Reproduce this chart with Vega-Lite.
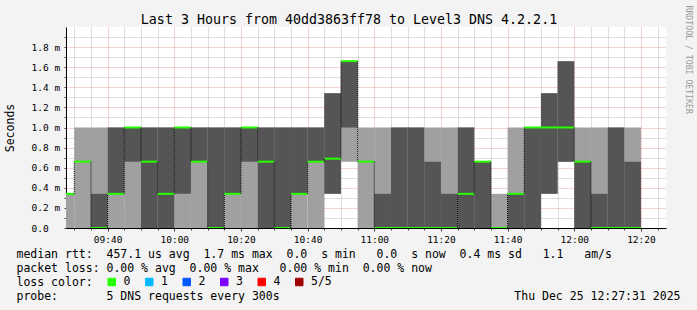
{
  "$schema": "https://vega.github.io/schema/vega-lite/v6.json",
  "width": 600,
  "height": 201,
  "autosize": {"type": "none"},
  "padding": {"left": 66, "top": 27, "right": 31, "bottom": 82},
  "background": "#f3f3f3",
  "config": {
    "view": {"fill": "#ffffff", "stroke": null},
    "font": "DejaVu Sans Mono",
    "axis": {"zindex": 1}
  },
  "data": {
    "values": [
      {"t": "2025-12-25T09:25:00Z", "t2": "2025-12-25T09:30:00Z", "lo1": 0, "hi1": 0.34, "lo2": 0.34, "hi2": 0.34, "med": 0.34, "loss": "0"},
      {"t": "2025-12-25T09:30:00Z", "t2": "2025-12-25T09:35:00Z", "lo1": 0, "hi1": 1.0, "lo2": 0.66, "hi2": 0.66, "med": 0.66, "loss": "0"},
      {"t": "2025-12-25T09:35:00Z", "t2": "2025-12-25T09:40:00Z", "lo1": 0, "hi1": 1.0, "lo2": 0, "hi2": 0.34, "med": 0, "loss": "0"},
      {"t": "2025-12-25T09:40:00Z", "t2": "2025-12-25T09:45:00Z", "lo1": 0, "hi1": 1.0, "lo2": 0.34, "hi2": 1.0, "med": 0.34, "loss": "0"},
      {"t": "2025-12-25T09:45:00Z", "t2": "2025-12-25T09:50:00Z", "lo1": 0, "hi1": 1.0, "lo2": 0.66, "hi2": 1.0, "med": 1.0, "loss": "0"},
      {"t": "2025-12-25T09:50:00Z", "t2": "2025-12-25T09:55:00Z", "lo1": 0, "hi1": 1.0, "lo2": 0, "hi2": 1.0, "med": 0.66, "loss": "0"},
      {"t": "2025-12-25T09:55:00Z", "t2": "2025-12-25T10:00:00Z", "lo1": 0, "hi1": 1.0, "lo2": 0, "hi2": 1.0, "med": 0.34, "loss": "0"},
      {"t": "2025-12-25T10:00:00Z", "t2": "2025-12-25T10:05:00Z", "lo1": 0, "hi1": 1.0, "lo2": 0.34, "hi2": 1.0, "med": 1.0, "loss": "0"},
      {"t": "2025-12-25T10:05:00Z", "t2": "2025-12-25T10:10:00Z", "lo1": 0, "hi1": 1.0, "lo2": 0.66, "hi2": 1.0, "med": 0.66, "loss": "0"},
      {"t": "2025-12-25T10:10:00Z", "t2": "2025-12-25T10:15:00Z", "lo1": 0, "hi1": 1.0, "lo2": 0, "hi2": 1.0, "med": 0, "loss": "0"},
      {"t": "2025-12-25T10:15:00Z", "t2": "2025-12-25T10:20:00Z", "lo1": 0, "hi1": 1.0, "lo2": 0.34, "hi2": 1.0, "med": 0.34, "loss": "0"},
      {"t": "2025-12-25T10:20:00Z", "t2": "2025-12-25T10:25:00Z", "lo1": 0, "hi1": 1.0, "lo2": 0.66, "hi2": 1.0, "med": 1.0, "loss": "0"},
      {"t": "2025-12-25T10:25:00Z", "t2": "2025-12-25T10:30:00Z", "lo1": 0, "hi1": 1.0, "lo2": 0, "hi2": 1.0, "med": 0.66, "loss": "0"},
      {"t": "2025-12-25T10:30:00Z", "t2": "2025-12-25T10:35:00Z", "lo1": 0, "hi1": 1.0, "lo2": 0, "hi2": 1.0, "med": 0, "loss": "0"},
      {"t": "2025-12-25T10:35:00Z", "t2": "2025-12-25T10:40:00Z", "lo1": 0, "hi1": 1.0, "lo2": 0.34, "hi2": 1.0, "med": 0.34, "loss": "0"},
      {"t": "2025-12-25T10:40:00Z", "t2": "2025-12-25T10:45:00Z", "lo1": 0, "hi1": 1.0, "lo2": 0.66, "hi2": 1.0, "med": 0.66, "loss": "0"},
      {"t": "2025-12-25T10:45:00Z", "t2": "2025-12-25T10:50:00Z", "lo1": 0.34, "hi1": 1.34, "lo2": 0.34, "hi2": 1.34, "med": 0.69, "loss": "0"},
      {"t": "2025-12-25T10:50:00Z", "t2": "2025-12-25T10:55:00Z", "lo1": 0.66, "hi1": 1.66, "lo2": 1.0, "hi2": 1.66, "med": 1.66, "loss": "0"},
      {"t": "2025-12-25T10:55:00Z", "t2": "2025-12-25T11:00:00Z", "lo1": 0, "hi1": 1.0, "lo2": 0.66, "hi2": 0.66, "med": 0.66, "loss": "0"},
      {"t": "2025-12-25T11:00:00Z", "t2": "2025-12-25T11:05:00Z", "lo1": 0, "hi1": 1.0, "lo2": 0, "hi2": 0.34, "med": 0, "loss": "0"},
      {"t": "2025-12-25T11:05:00Z", "t2": "2025-12-25T11:10:00Z", "lo1": 0, "hi1": 1.0, "lo2": 0, "hi2": 1.0, "med": 0, "loss": "0"},
      {"t": "2025-12-25T11:10:00Z", "t2": "2025-12-25T11:15:00Z", "lo1": 0, "hi1": 1.0, "lo2": 0, "hi2": 1.0, "med": 0, "loss": "0"},
      {"t": "2025-12-25T11:15:00Z", "t2": "2025-12-25T11:20:00Z", "lo1": 0, "hi1": 1.0, "lo2": 0, "hi2": 0.66, "med": 0, "loss": "0"},
      {"t": "2025-12-25T11:20:00Z", "t2": "2025-12-25T11:25:00Z", "lo1": 0, "hi1": 1.0, "lo2": 0, "hi2": 0.34, "med": 0, "loss": "0"},
      {"t": "2025-12-25T11:25:00Z", "t2": "2025-12-25T11:30:00Z", "lo1": 0, "hi1": 1.0, "lo2": 0, "hi2": 1.0, "med": 0.34, "loss": "0"},
      {"t": "2025-12-25T11:30:00Z", "t2": "2025-12-25T11:35:00Z", "lo1": 0, "hi1": 0.66, "lo2": 0, "hi2": 0.66, "med": 0.66, "loss": "0"},
      {"t": "2025-12-25T11:35:00Z", "t2": "2025-12-25T11:40:00Z", "lo1": 0, "hi1": 0.34, "lo2": 0, "hi2": 0, "med": 0, "loss": "0"},
      {"t": "2025-12-25T11:40:00Z", "t2": "2025-12-25T11:45:00Z", "lo1": 0, "hi1": 1.0, "lo2": 0, "hi2": 0.34, "med": 0.34, "loss": "0"},
      {"t": "2025-12-25T11:45:00Z", "t2": "2025-12-25T11:50:00Z", "lo1": 0, "hi1": 1.0, "lo2": 0, "hi2": 1.0, "med": 1.0, "loss": "0"},
      {"t": "2025-12-25T11:50:00Z", "t2": "2025-12-25T11:55:00Z", "lo1": 0.34, "hi1": 1.34, "lo2": 0.34, "hi2": 1.34, "med": 1.0, "loss": "0"},
      {"t": "2025-12-25T11:55:00Z", "t2": "2025-12-25T12:00:00Z", "lo1": 0.66, "hi1": 1.66, "lo2": 0.66, "hi2": 1.66, "med": 1.0, "loss": "0"},
      {"t": "2025-12-25T12:00:00Z", "t2": "2025-12-25T12:05:00Z", "lo1": 0, "hi1": 1.0, "lo2": 0, "hi2": 0.66, "med": 0.66, "loss": "0"},
      {"t": "2025-12-25T12:05:00Z", "t2": "2025-12-25T12:10:00Z", "lo1": 0, "hi1": 1.0, "lo2": 0, "hi2": 0.34, "med": 0, "loss": "0"},
      {"t": "2025-12-25T12:10:00Z", "t2": "2025-12-25T12:15:00Z", "lo1": 0, "hi1": 1.0, "lo2": 0, "hi2": 1.0, "med": 0, "loss": "0"},
      {"t": "2025-12-25T12:15:00Z", "t2": "2025-12-25T12:20:00Z", "lo1": 0, "hi1": 1.0, "lo2": 0, "hi2": 0.66, "med": 0, "loss": "0"}
    ]
  },
  "resolve": {"axis": {"x": "independent", "y": "independent"}},
  "layer": [
    {
      "mark": {"type": "rect", "color": "#a0a0a0", "clip": true},
      "encoding": {
        "x": {
          "field": "t", "type": "temporal",
          "scale": {"type": "utc", "domain": ["2025-12-25T09:27:31Z", "2025-12-25T12:27:31Z"]},
          "axis": {
            "orient": "bottom",
            "tickCount": 60,
            "values": [
              {"year": 2025, "month": 12, "date": 25, "hours": 9, "minutes": 30, "utc": true},
              {"year": 2025, "month": 12, "date": 25, "hours": 9, "minutes": 35, "utc": true},
              {"year": 2025, "month": 12, "date": 25, "hours": 9, "minutes": 45, "utc": true},
              {"year": 2025, "month": 12, "date": 25, "hours": 9, "minutes": 50, "utc": true},
              {"year": 2025, "month": 12, "date": 25, "hours": 9, "minutes": 55, "utc": true},
              {"year": 2025, "month": 12, "date": 25, "hours": 10, "minutes": 5, "utc": true},
              {"year": 2025, "month": 12, "date": 25, "hours": 10, "minutes": 10, "utc": true},
              {"year": 2025, "month": 12, "date": 25, "hours": 10, "minutes": 15, "utc": true},
              {"year": 2025, "month": 12, "date": 25, "hours": 10, "minutes": 25, "utc": true},
              {"year": 2025, "month": 12, "date": 25, "hours": 10, "minutes": 30, "utc": true},
              {"year": 2025, "month": 12, "date": 25, "hours": 10, "minutes": 35, "utc": true},
              {"year": 2025, "month": 12, "date": 25, "hours": 10, "minutes": 45, "utc": true},
              {"year": 2025, "month": 12, "date": 25, "hours": 10, "minutes": 50, "utc": true},
              {"year": 2025, "month": 12, "date": 25, "hours": 10, "minutes": 55, "utc": true},
              {"year": 2025, "month": 12, "date": 25, "hours": 11, "minutes": 5, "utc": true},
              {"year": 2025, "month": 12, "date": 25, "hours": 11, "minutes": 10, "utc": true},
              {"year": 2025, "month": 12, "date": 25, "hours": 11, "minutes": 15, "utc": true},
              {"year": 2025, "month": 12, "date": 25, "hours": 11, "minutes": 25, "utc": true},
              {"year": 2025, "month": 12, "date": 25, "hours": 11, "minutes": 30, "utc": true},
              {"year": 2025, "month": 12, "date": 25, "hours": 11, "minutes": 35, "utc": true},
              {"year": 2025, "month": 12, "date": 25, "hours": 11, "minutes": 45, "utc": true},
              {"year": 2025, "month": 12, "date": 25, "hours": 11, "minutes": 50, "utc": true},
              {"year": 2025, "month": 12, "date": 25, "hours": 11, "minutes": 55, "utc": true},
              {"year": 2025, "month": 12, "date": 25, "hours": 12, "minutes": 5, "utc": true},
              {"year": 2025, "month": 12, "date": 25, "hours": 12, "minutes": 10, "utc": true},
              {"year": 2025, "month": 12, "date": 25, "hours": 12, "minutes": 15, "utc": true},
              {"year": 2025, "month": 12, "date": 25, "hours": 12, "minutes": 25, "utc": true}
            ],
            "labels": false, "domain": false, "tickSize": 2, "tickColor": "#404040",
            "grid": true, "gridColor": "#808080", "gridOpacity": 0.5, "gridDash": [1, 1],
            "title": null
          }
        },
        "x2": {"field": "t2"},
        "y": {
          "field": "lo1", "type": "quantitative",
          "scale": {"domain": [0, 2], "nice": false, "zero": false},
          "axis": {
            "orient": "left",
            "tickCount": 40,
            "values": [0.1, 0.3, 0.5, 0.7, 0.9, 1.1, 1.3, 1.5, 1.7, 1.9],
            "labels": false, "domain": false, "tickSize": 2, "tickColor": "#404040",
            "grid": true, "gridColor": "#808080", "gridOpacity": 0.5, "gridDash": [1, 1],
            "title": null
          }
        },
        "y2": {"field": "hi1"}
      }
    },
    {
      "mark": {"type": "rect", "color": "#555555", "clip": true},
      "encoding": {
        "x": {
          "field": "t", "type": "temporal",
          "axis": {
            "orient": "bottom",
            "tickCount": 40,
            "values": [
              {"year": 2025, "month": 12, "date": 25, "hours": 9, "minutes": 40, "utc": true},
              {"year": 2025, "month": 12, "date": 25, "hours": 10, "minutes": 0, "utc": true},
              {"year": 2025, "month": 12, "date": 25, "hours": 10, "minutes": 20, "utc": true},
              {"year": 2025, "month": 12, "date": 25, "hours": 10, "minutes": 40, "utc": true},
              {"year": 2025, "month": 12, "date": 25, "hours": 11, "minutes": 0, "utc": true},
              {"year": 2025, "month": 12, "date": 25, "hours": 11, "minutes": 20, "utc": true},
              {"year": 2025, "month": 12, "date": 25, "hours": 11, "minutes": 40, "utc": true},
              {"year": 2025, "month": 12, "date": 25, "hours": 12, "minutes": 0, "utc": true},
              {"year": 2025, "month": 12, "date": 25, "hours": 12, "minutes": 20, "utc": true}
            ],
            "format": "%H:%M",
            "labelFont": "DejaVu Sans Mono", "labelFontSize": 9.5, "labelColor": "#000000", "labelPadding": 3,
            "labelFlush": false, "labelOverlap": false,
            "tickSize": 3, "tickColor": "#404040",
            "domainColor": "#000000",
            "grid": true, "gridColor": "#e03030", "gridOpacity": 0.45, "gridDash": [1, 1],
            "title": [
              "median\u00a0rtt:\u00a0\u00a0457.1\u00a0us\u00a0avg\u00a0\u00a01.7\u00a0ms\u00a0max\u00a0\u00a00.0\u00a0\u00a0s\u00a0min\u00a0\u00a0\u00a00.0\u00a0\u00a0s\u00a0now\u00a0\u00a00.4\u00a0ms\u00a0sd\u00a0\u00a0\u00a01.1\u00a0\u00a0\u00a0am/s",
              "packet\u00a0loss:\u00a00.00\u00a0%\u00a0avg\u00a0\u00a00.00\u00a0%\u00a0max\u00a0\u00a0\u00a00.00\u00a0%\u00a0min\u00a0\u00a00.00\u00a0%\u00a0now",
              "loss\u00a0color:",
              "probe:\u00a0\u00a0\u00a0\u00a0\u00a0\u00a0\u00a05\u00a0DNS\u00a0requests\u00a0every\u00a0300s"
            ],
            "titleFont": "DejaVu Sans Mono", "titleFontSize": 11.5, "titleFontWeight": "normal", "titleColor": "#000000",
            "titleAlign": "left", "titleBaseline": "top", "titleLineHeight": 14,
            "titleX": -50, "titleY": 20
          }
        },
        "x2": {"field": "t2"},
        "y": {
          "field": "lo2", "type": "quantitative",
          "axis": {
            "orient": "left",
            "tickCount": 40,
            "values": [0, 0.2, 0.4, 0.6, 0.8, 1.0, 1.2, 1.4, 1.6, 1.8],
            "labelExpr": "datum.value == 0 ? '0.0' : format(datum.value, '.1f') + ' m'",
            "labelAlign": "left", "labelPadding": 33,
            "labelFont": "DejaVu Sans Mono", "labelFontSize": 9.5, "labelColor": "#000000",
            "labelFlush": false, "labelOverlap": false,
            "tickSize": 2, "tickColor": "#404040",
            "domainColor": "#000000",
            "grid": true, "gridColor": "#e03030", "gridOpacity": 0.45, "gridDash": [1, 1],
            "title": "Seconds", "titleFont": "DejaVu Sans Mono", "titleFontSize": 11.5, "titleFontWeight": "normal",
            "titleColor": "#000000", "titleAngle": -90, "titleX": -56, "titleY": 100.5,
            "titleAlign": "center", "titleBaseline": "middle"
          }
        },
        "y2": {"field": "hi2"}
      }
    },
    {
      "mark": {"type": "rule", "strokeWidth": 2, "clip": true},
      "encoding": {
        "x": {
          "field": "t", "type": "temporal",
          "axis": {
            "orient": "top", "domain": false, "ticks": false, "labels": false, "grid": false,
            "title": "Last 3 Hours from 40dd3863ff78 to Level3 DNS 4.2.2.1",
            "titleFont": "DejaVu Sans Mono", "titleFontSize": 13.3, "titleFontWeight": "normal", "titleColor": "#000000",
            "titleX": 282.5, "titleY": -8, "titleAlign": "center", "titleBaseline": "middle"
          }
        },
        "x2": {"field": "t2"},
        "y": {
          "field": "med", "type": "quantitative",
          "axis": {
            "orient": "right", "domain": false, "ticks": false, "labels": false, "grid": false,
            "title": "RRDTOOL / TOBI OETIKER",
            "titleFont": "DejaVu Sans Mono", "titleFontSize": 8.2, "titleFontWeight": "normal", "titleColor": "#9a9a9a",
            "titleAngle": 90, "titleX": 21, "titleY": -22, "titleAlign": "left", "titleBaseline": "middle"
          }
        },
        "color": {
          "field": "loss", "type": "nominal",
          "scale": {"domain": ["0", "1", "2", "3", "4", "5/5"], "range": ["#26ff00", "#00b8ff", "#0059ff", "#7e00ff", "#ff0000", "#a10000"]},
          "legend": {
            "orient": "none", "legendX": 40, "legendY": 249, "direction": "horizontal",
            "title": null,
            "labelFont": "DejaVu Sans Mono", "labelFontSize": 11.5, "labelColor": "#000000", "labelOffset": 6,
            "columnPadding": 12.5, "symbolType": "square", "symbolSize": 56, "symbolStrokeWidth": 1,
            "symbolStrokeColor": "#000000", "padding": 0,
            "encode": {"symbols": {"update": {
              "fill": {"scale": "color", "field": "value"},
              "stroke": {"value": "#000000"},
              "strokeWidth": {"value": 1},
              "opacity": {"value": 1}
            }}}
          }
        }
      }
    },
    {
      "transform": [{"window": [{"op": "lag", "field": "med", "as": "prev"}], "sort": [{"field": "t"}]}],
      "mark": {"type": "rule", "color": "#000000", "strokeWidth": 1, "strokeDash": [1, 1], "clip": true},
      "encoding": {
        "x": {
          "field": "t", "type": "temporal",
          "axis": {
            "orient": "bottom", "domain": false, "ticks": false, "labels": false, "grid": false,
            "title": "Thu Dec 25 12:27:31 2025",
            "titleFont": "DejaVu Sans Mono", "titleFontSize": 11.5, "titleFontWeight": "normal", "titleColor": "#000000",
            "titleX": 614, "titleY": 62, "titleAlign": "right", "titleBaseline": "top"
          }
        },
        "y": {"field": "prev", "type": "quantitative", "axis": null},
        "y2": {"field": "med"}
      }
    }
  ]
}
